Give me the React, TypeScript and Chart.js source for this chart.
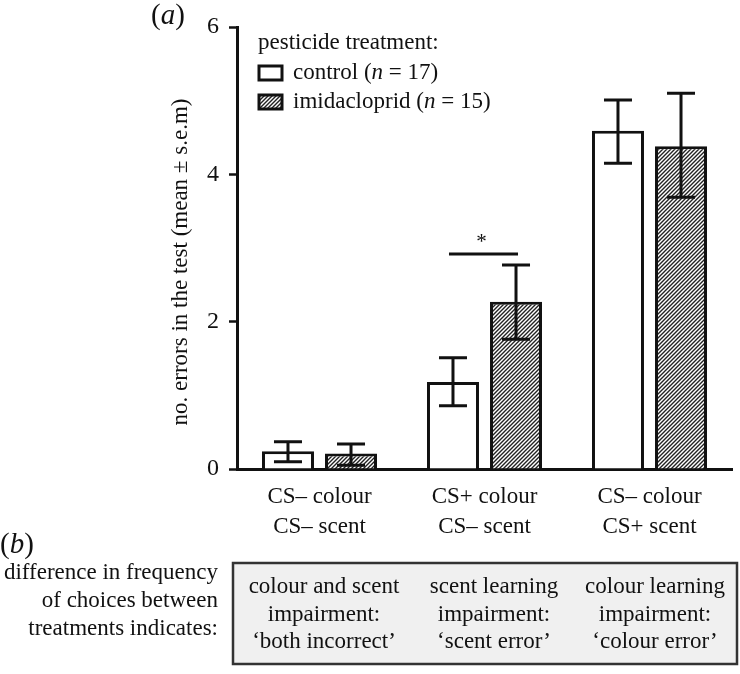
import React, { useEffect, useRef } from "react";
import { Chart, registerables } from "chart.js";

Chart.register(...registerables);

const categories: string[][] = [
  ["CS– colour", "CS– scent"],
  ["CS+ colour", "CS– scent"],
  ["CS– colour", "CS+ scent"],
];
const controlMean = [0.24, 1.18, 4.59];
const controlLow = [0.1, 0.86, 4.15];
const controlHigh = [0.37, 1.51, 5.01];
const imidMean = [0.21, 2.27, 4.38];
const imidLow = [0.05, 1.76, 3.69];
const imidHigh = [0.34, 2.77, 5.1];
const yTicks = [0, 2, 4, 6];
const sigLevel = 2.92;
const sigGroup = 1;

const panelBLeft = ["difference in frequency", "of choices between", "treatments indicates:"];
const panelBCols: string[][] = [
  ["colour and scent", "impairment:", "‘both incorrect’"],
  ["scent learning", "impairment:", "‘scent error’"],
  ["colour learning", "impairment:", "‘colour error’"],
];

const FONT = "'Liberation Serif', 'Times New Roman', serif";
const INK = "#111111";
const FS = 23;

function makeHatch(): CanvasPattern | string {
  const c = document.createElement("canvas");
  c.width = 4;
  c.height = 4;
  const g = c.getContext("2d");
  if (!g) return "#888";
  g.fillStyle = "#ffffff";
  g.fillRect(0, 0, 4, 4);
  g.strokeStyle = "#222222";
  g.lineWidth = 1.4;
  g.beginPath();
  g.moveTo(-1, 5);
  g.lineTo(5, -1);
  g.moveTo(-1, 1);
  g.lineTo(1, -1);
  g.moveTo(3, 5);
  g.lineTo(5, 3);
  g.stroke();
  const p = g.createPattern(c, "repeat");
  return p || "#888";
}

type Part = { t: string; i?: boolean };
function drawRich(ctx: CanvasRenderingContext2D, parts: Part[], x: number, y: number, size: number) {
  let cx = x;
  for (const p of parts) {
    ctx.font = `${p.i ? "italic " : ""}${size}px ${FONT}`;
    ctx.fillText(p.t, cx, y);
    cx += ctx.measureText(p.t).width;
  }
}

const overlay = {
  id: "overlay",
  afterDatasetsDraw(chart: any) {
    const ctx: CanvasRenderingContext2D = chart.ctx;
    const y = chart.scales.y;
    const lows = [controlLow, imidLow];
    const highs = [controlHigh, imidHigh];
    ctx.save();
    // error bars
    ctx.strokeStyle = INK;
    ctx.lineWidth = 3;
    ctx.lineCap = "butt";
    for (let d = 0; d < 2; d++) {
      const meta = chart.getDatasetMeta(d);
      meta.data.forEach((bar: any, i: number) => {
        const x = bar.x;
        const yl = y.getPixelForValue(lows[d][i]);
        const yh = y.getPixelForValue(highs[d][i]);
        ctx.beginPath();
        ctx.moveTo(x, yl);
        ctx.lineTo(x, yh);
        ctx.moveTo(x - 14, yh);
        ctx.lineTo(x + 14, yh);
        ctx.moveTo(x - 14, yl);
        ctx.lineTo(x + 14, yl);
        ctx.stroke();
      });
    }
    // significance bar
    const b0 = chart.getDatasetMeta(0).data[sigGroup];
    const b1 = chart.getDatasetMeta(1).data[sigGroup];
    const sy = y.getPixelForValue(sigLevel);
    ctx.beginPath();
    ctx.moveTo(b0.x - 4, sy);
    ctx.lineTo(b1.x + 2, sy);
    ctx.stroke();
    ctx.fillStyle = INK;
    ctx.font = `21px ${FONT}`;
    ctx.textAlign = "center";
    ctx.textBaseline = "alphabetic";
    ctx.fillText("*", (b0.x + b1.x) / 2 - 3, sy - 6);

    // (a)
    ctx.textAlign = "left";
    ctx.textBaseline = "middle";
    drawRich(ctx, [{ t: "(" }, { t: "a", i: true }, { t: ")" }], 151, 16, 29);

    // y title
    ctx.save();
    ctx.translate(181, 262);
    ctx.rotate(-Math.PI / 2);
    ctx.textAlign = "center";
    ctx.font = `${FS}px ${FONT}`;
    ctx.fillText("no. errors in the test (mean ± s.e.m)", 0, 0);
    ctx.restore();

    // legend
    ctx.textAlign = "left";
    ctx.font = `${FS}px ${FONT}`;
    ctx.fillText("pesticide treatment:", 258, 43);
    const hatch = chart.data.datasets[1].backgroundColor;
    const rows = [
      { fill: "#ffffff", y: 73, parts: [{ t: "control (" }, { t: "n", i: true }, { t: " = 17)" }] },
      { fill: hatch, y: 102, parts: [{ t: "imidacloprid (" }, { t: "n", i: true }, { t: " = 15)" }] },
    ];
    for (const r of rows) {
      ctx.fillStyle = r.fill;
      ctx.fillRect(259, r.y - 7, 23, 14);
      ctx.strokeStyle = INK;
      ctx.lineWidth = 3;
      ctx.strokeRect(259, r.y - 7, 23, 14);
      ctx.fillStyle = INK;
      drawRich(ctx, r.parts, 293, r.y, FS);
    }

    // panel (b)
    drawRich(ctx, [{ t: "(" }, { t: "b", i: true }, { t: ")" }], 0, 545, 29);
    ctx.font = `${FS}px ${FONT}`;
    ctx.textAlign = "right";
    const leftYs = [573, 601, 629];
    panelBLeft.forEach((s, i) => ctx.fillText(s, 218, leftYs[i]));
    ctx.fillStyle = "#f0f0f0";
    ctx.fillRect(233, 563, 504, 101);
    ctx.strokeStyle = "#333";
    ctx.lineWidth = 2.5;
    ctx.strokeRect(233, 563, 504, 101);
    ctx.fillStyle = INK;
    ctx.textAlign = "center";
    const colX = [324, 494, 655];
    const colYs = [587, 615, 642];
    panelBCols.forEach((col, c) =>
      col.forEach((s, i) => ctx.fillText(s, colX[c], colYs[i]))
    );
    ctx.restore();
  },
};

export default function App() {
  const ref = useRef<HTMLCanvasElement | null>(null);
  useEffect(() => {
    if (!ref.current) return;
    const hatch = makeHatch();
    const chart = new Chart(ref.current, {
      type: "bar",
      data: {
        labels: categories,
        datasets: [
          {
            label: "control (n = 17)",
            data: controlMean,
            backgroundColor: "#ffffff",
            borderColor: INK,
            borderWidth: 3,
            categoryPercentage: 0.764,
            barPercentage: 0.825,
          },
          {
            label: "imidacloprid (n = 15)",
            data: imidMean,
            backgroundColor: hatch as any,
            borderColor: INK,
            borderWidth: 3,
            categoryPercentage: 0.764,
            barPercentage: 0.825,
          },
        ],
      },
      options: {
        responsive: false,
        animation: false,
        devicePixelRatio: 1,
        layout: { padding: { left: 0, top: 27, right: 8, bottom: 135 } },
        plugins: { legend: { display: false }, tooltip: { enabled: false } },
        scales: {
          x: {
            afterFit: (s: any) => {
              s.height = 70;
            },
            grid: { drawOnChartArea: false, drawTicks: false, color: "transparent" },
            border: { display: true, color: INK, width: 3 },
            ticks: {
              color: INK,
              padding: 13,
              font: { family: FONT, size: FS, lineHeight: 1.3 },
            },
          },
          y: {
            min: 0,
            max: 6,
            afterFit: (s: any) => {
              s.width = 237;
            },
            afterBuildTicks: (s: any) => {
              s.ticks = yTicks.map((v) => ({ value: v }));
            },
            grid: {
              drawOnChartArea: false,
              drawTicks: true,
              tickLength: 8,
              tickWidth: 2.5,
              tickColor: INK,
            },
            border: { display: true, color: INK, width: 3 },
            ticks: {
              color: INK,
              padding: 10,
              font: { family: FONT, size: 24 },
            },
          },
        },
      },
      plugins: [overlay],
    });
    return () => chart.destroy();
  }, []);
  return (
    <div style={{ position: "absolute", left: 0, top: 0, width: 740, height: 674, background: "#fff" }}>
      <canvas ref={ref} width={740} height={674} style={{ display: "block" }} />
    </div>
  );
}
